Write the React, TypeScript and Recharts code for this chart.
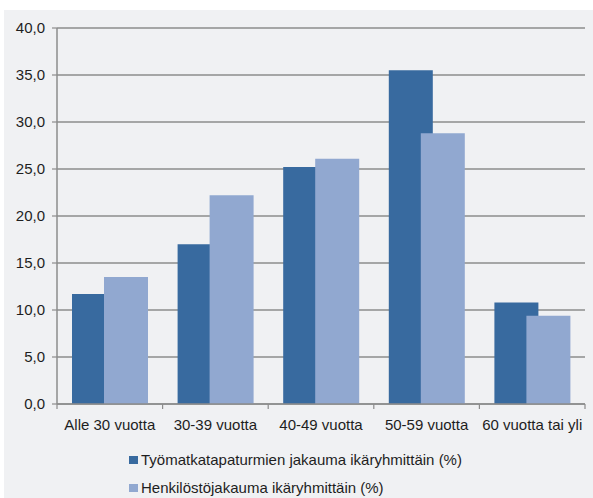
import React from 'react';
import { BarChart, Bar, XAxis, YAxis, CartesianGrid, Legend } from 'recharts';

const categories = ['Alle 30 vuotta', '30-39 vuotta', '40-49 vuotta', '50-59 vuotta', '60 vuotta tai yli'];
const tyomatkaValues = [11.7, 17.0, 25.2, 35.5, 10.8];
const henkilostoValues = [13.5, 22.2, 26.1, 28.8, 9.4];
const yTicks = [0, 5, 10, 15, 20, 25, 30, 35, 40];
const seriesNames = ['Työmatkatapaturmien jakauma ikäryhmittäin (%)', 'Henkilöstöjakauma ikäryhmittäin (%)'];
const seriesColors = ['#386a9f', '#91a8d0'];

const data = categories.map((c, i) => ({ name: c, a: tyomatkaValues[i], b: henkilostoValues[i] }));

const W = 593;
const H = 498;
const MARGIN = { top: 28, right: 8, left: 0, bottom: 64 };
const Y_AXIS_W = 57;
const BAND = (W - MARGIN.right - MARGIN.left - Y_AXIS_W) / categories.length;
const GRID = '#8c8c8c';
const TEXT = '#1e1e1e';

const XTick = (props: any) => {
  const { x, y, payload, index } = props;
  const axisY = y - 15;
  return (
    <g>
      <line x1={x - BAND / 2} x2={x - BAND / 2} y1={axisY} y2={axisY + 5} stroke={GRID} strokeWidth={1.2} />
      {index === categories.length - 1 && (
        <line x1={x + BAND / 2} x2={x + BAND / 2} y1={axisY} y2={axisY + 5} stroke={GRID} strokeWidth={1.2} />
      )}
      <text x={x} y={y} dy="0.71em" textAnchor="middle" fill={TEXT} fontSize={15}>
        {payload.value}
      </text>
    </g>
  );
};

const LegendContent = () => (
  <div style={{ fontSize: 15, color: TEXT, lineHeight: '28px' }}>
    {seriesNames.map((n, i) => (
      <div key={n} style={{ display: 'flex', alignItems: 'center', height: 28 }}>
        <span style={{ display: 'inline-block', width: 9, height: 8, background: seriesColors[i], marginRight: 3 }} />
        <span>{n}</span>
      </div>
    ))}
  </div>
);

export default function App() {
  return (
    <div style={{ position: 'absolute', left: 0, top: 0, width: W, height: H, background: '#ffffff', fontFamily: '"Liberation Sans", Arial, sans-serif' }}>
      <div style={{ position: 'absolute', left: 4, top: 10, width: W - 4, height: H - 10, background: '#f0f1f3' }} />
      <div style={{ position: 'absolute', left: 0, top: 0 }}>
        <BarChart width={W} height={H} data={data} margin={MARGIN} barSize={44} barGap={-12}>
          <CartesianGrid vertical={false} stroke={GRID} strokeWidth={1.5} />
          <XAxis
            dataKey="name"
            height={30}
            axisLine={{ stroke: GRID, strokeWidth: 1.5 }}
            tickLine={false}
            tickSize={5}
            tickMargin={10}
            tick={<XTick />}
            interval={0}
          />
          <YAxis
            width={Y_AXIS_W}
            domain={[0, 40]}
            ticks={yTicks}
            interval={0}
            axisLine={{ stroke: GRID, strokeWidth: 1.5 }}
            tickLine={{ stroke: GRID, strokeWidth: 1.2 }}
            tickSize={5}
            tickMargin={7}
            tick={{ fill: TEXT, fontSize: 15 }}
            tickFormatter={(v: number) => v.toFixed(1).replace('.', ',')}
          />
          <Legend
            layout="horizontal"
            verticalAlign="middle"
            align="center"
            wrapperStyle={{ top: 446, left: 129, width: 'auto' }}
            content={<LegendContent />}
          />
          <Bar dataKey="a" name={seriesNames[0]} fill={seriesColors[0]} isAnimationActive={false} />
          <Bar dataKey="b" name={seriesNames[1]} fill={seriesColors[1]} isAnimationActive={false} />
        </BarChart>
      </div>
    </div>
  );
}
